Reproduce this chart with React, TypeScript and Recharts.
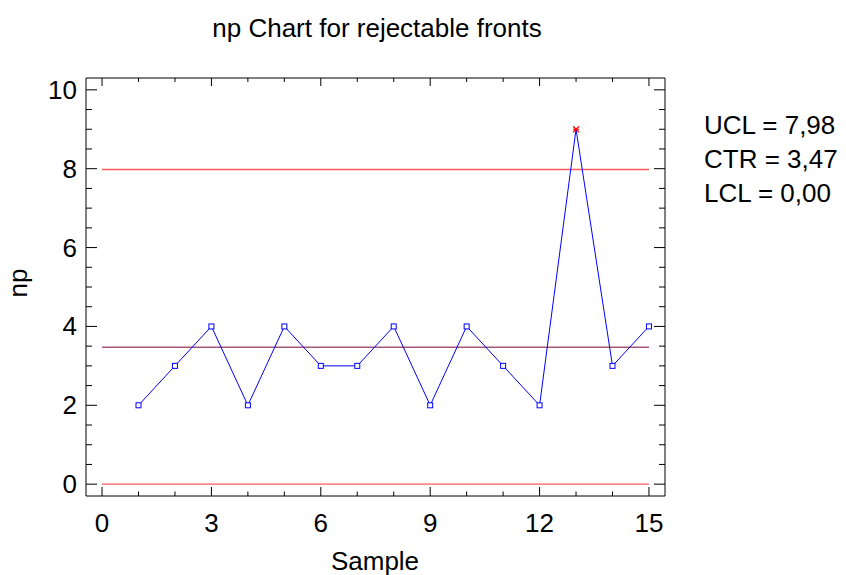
import { ComposedChart, Line, XAxis, YAxis, ReferenceLine, Customized } from 'recharts'

const samples = [1, 2, 3, 4, 5, 6, 7, 8, 9, 10, 11, 12, 13, 14, 15]
const npValues = [2, 3, 4, 2, 4, 3, 3, 4, 2, 4, 3, 2, 9, 3, 4]
const UCL = 7.98
const CTR = 3.47
const LCL = 0
const limitLabels = ['UCL = 7,98', 'CTR = 3,47', 'LCL = 0,00']
const xTicks = [0, 1, 2, 3, 4, 5, 6, 7, 8, 9, 10, 11, 12, 13, 14, 15]
const yTicks = [0, 0.5, 1, 1.5, 2, 2.5, 3, 3.5, 4, 4.5, 5, 5.5, 6, 6.5, 7, 7.5, 8, 8.5, 9, 9.5, 10]

const FONT = '"Liberation Sans", Arial, sans-serif'
const FS = 26

const data = samples.map((s, i) => ({ sample: s, np: npValues[i] }))

const isMajorX = (v: number) => v % 3 === 0
const isMajorY = (v: number) => v % 2 === 0

// tick marks point into the plot; labels sit outside
function BottomTick(p: any) {
  const { x, y, payload } = p
  const major = isMajorX(payload.value)
  return (
    <g>
      <line x1={x} x2={x} y1={y} y2={y - (major ? 9 : 4.5)} stroke="#000" />
      {major && <text x={x} y={y + 36} textAnchor="middle" fontSize={FS} fontFamily={FONT} fill="#000">{payload.value}</text>}
    </g>
  )
}

function TopTick(p: any) {
  const { x, y, payload } = p
  const major = isMajorX(payload.value)
  return <line x1={x} x2={x} y1={y} y2={y + (major ? 8 : 4)} stroke="#000" />
}

function LeftTick(p: any) {
  const { x, y, payload } = p
  const major = isMajorY(payload.value)
  return (
    <g>
      <line x1={x} x2={x + (major ? 11 : 6)} y1={y} y2={y} stroke="#000" />
      {major && <text x={x - 9} y={y + 9} textAnchor="end" fontSize={FS} fontFamily={FONT} fill="#000">{payload.value}</text>}
    </g>
  )
}

function RightTick(p: any) {
  const { x, y, payload } = p
  const major = isMajorY(payload.value)
  return <line x1={x} x2={x - (major ? 11 : 6)} y1={y} y2={y} stroke="#000" />
}

function PointDot(p: any) {
  const { cx, cy, value, index } = p
  if (cx == null || cy == null) return null
  if (value > UCL) {
    return (
      <g key={`d-${index}`} stroke="#ff0000" strokeWidth={1.2}>
        <line x1={cx - 3} x2={cx + 3} y1={cy - 3} y2={cy + 3} />
        <line x1={cx - 3} x2={cx + 3} y1={cy + 3} y2={cy - 3} />
        <line x1={cx - 3} x2={cx + 3} y1={cy} y2={cy} />
      </g>
    )
  }
  return <rect key={`d-${index}`} x={cx - 2.5} y={cy - 2.5} width={5} height={5} fill="#fff" stroke="#0000ff" strokeWidth={1} />
}

function Labels() {
  return (
    <g fontFamily={FONT} fontSize={FS} fill="#000">
      <text x={377} y={37} textAnchor="middle">np Chart for rejectable fronts</text>
      <text x={375} y={570} textAnchor="middle">Sample</text>
      <text x={27} y={283} textAnchor="middle" transform="rotate(-90 27 283)">np</text>
      {limitLabels.map((t, i) => (
        <text key={t} x={704} y={134 + i * 34}>{t}</text>
      ))}
    </g>
  )
}

export default function App() {
  const xDomain: [number, number] = [-0.44, 15.44]
  const yDomain: [number, number] = [-0.3, 10.3]
  return (
    <div style={{ position: 'absolute', left: 0, top: 0, background: '#fff' }}>
      <ComposedChart width={846} height={575} data={data} margin={{ top: 77, right: 180, bottom: 39, left: 26 }}>
        <XAxis xAxisId="b" dataKey="sample" type="number" scale="linear" domain={xDomain} allowDataOverflow ticks={xTicks} interval={0} height={40}
          tickSize={0} tickMargin={0} tickLine={false} tick={<BottomTick />} axisLine={{ stroke: '#000' }} />
        <XAxis xAxisId="t" dataKey="sample" orientation="top" type="number" scale="linear" domain={xDomain} allowDataOverflow ticks={xTicks} interval={0} height={1}
          tickSize={0} tickMargin={0} tickLine={false} tick={<TopTick />} axisLine={{ stroke: '#000' }} />
        <YAxis yAxisId="l" type="number" scale="linear" domain={yDomain} allowDataOverflow ticks={yTicks} interval={0} width={60}
          tickSize={0} tickMargin={0} tickLine={false} tick={<LeftTick />} axisLine={{ stroke: '#000' }} />
        <YAxis yAxisId="r" orientation="right" type="number" scale="linear" domain={yDomain} allowDataOverflow ticks={yTicks} interval={0} width={1}
          tickSize={0} tickMargin={0} tickLine={false} tick={<RightTick />} axisLine={{ stroke: '#000' }} />
        <ReferenceLine xAxisId="b" yAxisId="l" segment={[{ x: 0, y: UCL }, { x: 15, y: UCL }]} stroke="#ff5a5a" strokeWidth={1.3} />
        <ReferenceLine xAxisId="b" yAxisId="l" segment={[{ x: 0, y: CTR }, { x: 15, y: CTR }]} stroke="#a45878" strokeWidth={1.5} />
        <ReferenceLine xAxisId="b" yAxisId="l" segment={[{ x: 0, y: LCL }, { x: 15, y: LCL }]} stroke="#ff5a5a" strokeWidth={1.3} />
        <Line xAxisId="b" yAxisId="l" dataKey="np" type="linear" stroke="#0000ff" strokeWidth={1} dot={<PointDot />} activeDot={false} isAnimationActive={false} />
        <Customized component={<Labels />} />
      </ComposedChart>
    </div>
  )
}
